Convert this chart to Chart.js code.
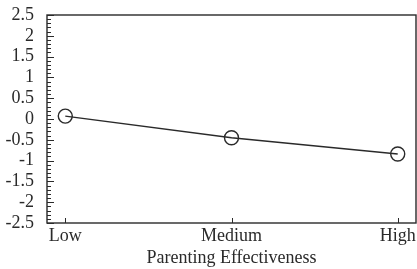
<!DOCTYPE html>
<html>
<head>
<meta charset="utf-8">
<script src="https://cdn.jsdelivr.net/npm/chart.js@4"></script>
<style>
  html, body { margin: 0; padding: 0; background: #fff; }
  #wrap { width: 417px; height: 269px; }
</style>
</head>
<body>
<div id="wrap"><canvas id="chart"></canvas></div>
<script>
const categories = ['Low', 'Medium', 'High'];
const values = [0.07, -0.45, -0.84];
const xTitle = 'Parenting Effectiveness';
const yMin = -2.5;
const yMax = 2.5;

const ink = '#2a2a2a';
const font = { family: '"Liberation Serif", "Times New Roman", serif', size: 18 };

// frame + inward tick marks, drawn through the scales
const frame = {
  id: 'frame',
  afterDraw(chart) {
    const { ctx, chartArea: a, scales } = chart;
    ctx.save();
    ctx.strokeStyle = ink;
    ctx.lineWidth = 1.4;
    ctx.strokeRect(a.left, a.top, a.right - a.left, a.bottom - a.top);
    ctx.lineWidth = 1;
    scales.y.ticks.forEach(t => {
      const y = Math.round(scales.y.getPixelForValue(t.value)) + 0.5;
      const major = Math.abs(t.value * 2 - Math.round(t.value * 2)) < 1e-6;
      ctx.beginPath();
      ctx.moveTo(a.left, y);
      ctx.lineTo(a.left + (major ? 7 : 4), y);
      ctx.stroke();
    });
    scales.x.ticks.forEach(t => {
      const x = Math.round(scales.x.getPixelForValue(t.value)) + 0.5;
      ctx.beginPath();
      ctx.moveTo(x, a.bottom);
      ctx.lineTo(x, a.bottom - 5);
      ctx.stroke();
    });
    ctx.restore();
  }
};

new Chart(document.getElementById('chart'), {
  type: 'line',
  data: {
    datasets: [{
      data: values.map((v, i) => ({ x: i, y: v })),
      borderColor: ink,
      borderWidth: 1.4,
      pointRadius: 7,
      pointBorderWidth: 1.4,
      pointBorderColor: ink,
      pointBackgroundColor: 'rgba(0,0,0,0)',
      tension: 0
    }]
  },
  options: {
    responsive: true,
    maintainAspectRatio: false,
    animation: false,
    layout: { autoPadding: false, padding: { top: 15, right: 1, left: 0, bottom: 0 } },
    plugins: { legend: { display: false }, tooltip: { enabled: false } },
    scales: {
      x: {
        type: 'linear',
        min: -0.11,
        max: 2.11,
        afterBuildTicks: s => { s.ticks = categories.map((c, i) => ({ value: i })); },
        afterFit: s => { s.height = 46; s.paddingLeft = 0; s.paddingRight = 0; },
        grid: { display: false, drawTicks: false },
        border: { display: false },
        ticks: {
          color: ink,
          font: font,
          padding: 2,
          maxRotation: 0,
          autoSkip: false,
          callback: v => categories[v]
        },
        title: { display: true, text: xTitle, color: ink, font: font, padding: { top: 0, bottom: 0 } }
      },
      y: {
        min: yMin,
        max: yMax,
        afterFit: s => { s.width = 47; s.paddingTop = 0; s.paddingBottom = 0; },
        grid: { display: false, drawTicks: false },
        border: { display: false },
        ticks: {
          stepSize: 0.1,
          autoSkip: false,
          color: ink,
          font: font,
          padding: 13,
          callback: v => {
            const r = Math.round(v * 10) / 10;
            return Math.abs(r * 2 - Math.round(r * 2)) < 1e-6 ? String(r) : '';
          }
        }
      }
    }
  },
  plugins: [frame]
});
</script>
</body>
</html>
